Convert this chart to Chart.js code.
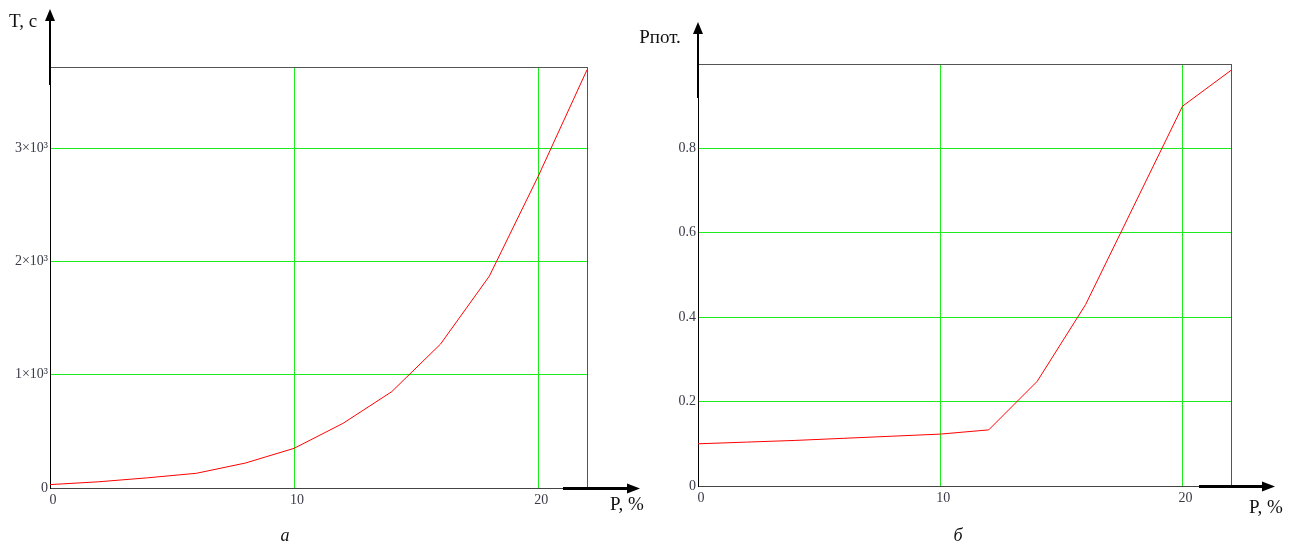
<!DOCTYPE html>
<html>
<head>
<meta charset="utf-8">
<script src="https://cdn.jsdelivr.net/npm/chart.js@4"></script>
<style>
  body { margin: 0; background: #fff; width: 1292px; height: 547px; overflow: hidden; }
  canvas { position: absolute; top: 0; }
  #grafikT { left: 0; }
  #grafikP { left: 620px; }
</style>
</head>
<body>
<canvas id="grafikT" width="646" height="547"></canvas>
<canvas id="grafikP" width="672" height="547"></canvas>
<script>
// P, %
const pValues = [0, 2, 4, 6, 8, 10, 12, 14, 16, 18, 20, 22];
// T, c
const tValues = [30, 55, 90, 130, 220, 350, 570, 850, 1270, 1870, 2750, 3690];
// Рпот.
const pLossValues = [0.1, 0.104, 0.108, 0.113, 0.118, 0.123, 0.133, 0.248, 0.43, 0.665, 0.9, 0.985];

const xTicks = [0, 10, 20];
const tTicks = [0, 1000, 2000, 3000];
const pLossTicks = [0, 0.2, 0.4, 0.6, 0.8];

const serif = '"Liberation Serif", "DejaVu Serif", serif';
const green = 'rgb(30, 235, 30)';

// рамка, стрелки осей и подписи
const ramkaPlugin = {
    id: 'ramka',
    afterDraw(chart, args, o) {
        const c = chart.ctx;
        const a = chart.chartArea;
        const L = Math.round(a.left), R = Math.round(a.right);
        const T = Math.round(a.top), B = Math.round(a.bottom);
        c.save();
        c.lineWidth = 1;
        c.strokeStyle = '#555';
        c.beginPath();
        c.moveTo(L, T + 0.5); c.lineTo(R + 1, T + 0.5);
        c.moveTo(R + 0.5, T); c.lineTo(R + 0.5, B);
        c.stroke();

        // ось Y со стрелкой
        c.strokeStyle = '#000';
        c.fillStyle = '#000';
        c.lineWidth = 2;
        c.beginPath();
        c.moveTo(L, o.yArrow.base); c.lineTo(L, o.yArrow.end);
        c.stroke();
        c.beginPath();
        c.moveTo(L, o.yArrow.tip);
        c.lineTo(L - 5, o.yArrow.base + 1);
        c.lineTo(L + 5, o.yArrow.base + 1);
        c.closePath();
        c.fill();

        // ось X со стрелкой
        c.lineWidth = 3;
        c.beginPath();
        c.moveTo(R + o.xArrow.start, B + 0.5); c.lineTo(R + o.xArrow.base, B + 0.5);
        c.stroke();
        c.beginPath();
        c.moveTo(R + o.xArrow.tip, B + 0.5);
        c.lineTo(R + o.xArrow.base - 1, B - 4.5);
        c.lineTo(R + o.xArrow.base - 1, B + 5.5);
        c.closePath();
        c.fill();

        c.fillStyle = '#111';
        c.textAlign = 'center';
        c.textBaseline = 'middle';
        c.font = '19px ' + serif;
        c.fillText(o.yTitle.text, o.yTitle.x, o.yTitle.y);
        c.fillText(o.xTitle.text, o.xTitle.x, o.xTitle.y);
        c.font = 'italic 18px ' + serif;
        c.fillText(o.caption.text, o.caption.x, o.caption.y);
        c.restore();
    }
};

function veGrafik(id, canvasW, yValues, yTickValues, yMax, khung, tickText) {
    const ctx = document.getElementById(id).getContext('2d');
    return new Chart(ctx, {
        type: 'line',
        data: {
            datasets: [{
                data: pValues.map((p, i) => ({ x: p, y: yValues[i] })),
                borderColor: '#ff0000',
                borderWidth: 1,
                pointRadius: 0,
                tension: 0
            }]
        },
        options: {
            responsive: false,
            animation: false,
            layout: { padding: { left: 0, top: khung.top, right: canvasW - khung.right, bottom: 0 } },
            plugins: {
                legend: { display: false },
                tooltip: { enabled: false },
                ramka: khung.plugin
            },
            scales: {
                x: {
                    type: 'linear',
                    min: 0,
                    max: 22,
                    afterBuildTicks: s => { s.ticks = xTicks.map(v => ({ value: v })); },
                    afterFit: s => { s.height = 547 - khung.bottom; },
                    grid: {
                        drawTicks: false,
                        color: c => (c.tick && c.tick.value === 0) ? 'rgba(0,0,0,0)' : green
                    },
                    border: { color: '#444', width: 1 },
                    ticks: {
                        padding: 4,
                        labelOffset: 3,
                        color: '#3a3a48',
                        font: { family: serif, size: 14 },
                        maxRotation: 0
                    }
                },
                y: {
                    min: 0,
                    max: yMax,
                    afterBuildTicks: s => { s.ticks = yTickValues.map(v => ({ value: v })); },
                    afterFit: s => { s.width = khung.left; },
                    grid: {
                        drawTicks: false,
                        color: c => (c.tick && c.tick.value === 0) ? 'rgba(0,0,0,0)' : green
                    },
                    border: { color: '#000', width: 1 },
                    ticks: {
                        padding: 2,
                        color: '#3a3a48',
                        font: { family: serif, size: 14 },
                        callback: tickText
                    }
                }
            }
        },
        plugins: [ramkaPlugin]
    });
}

veGrafik('grafikT', 646, tValues, tTicks, 3715, {
    left: 50, right: 587, top: 67, bottom: 488,
    plugin: {
        yArrow: { tip: 9, base: 20, end: 85 },
        xArrow: { start: -24, base: 41, tip: 53 },
        yTitle: { text: 'T, c', x: 23, y: 22 },
        xTitle: { text: 'P, %', x: 627, y: 505 },
        caption: { text: 'а', x: 285, y: 536 }
    }
}, v => v === 0 ? '0' : (v / 1000) + '×10³');

// второй холст сдвинут на 620 px
veGrafik('grafikP', 672, pLossValues, pLossTicks, 1, {
    left: 78, right: 611, top: 64, bottom: 486,
    plugin: {
        yArrow: { tip: 22, base: 33, end: 98 },
        xArrow: { start: -32, base: 32, tip: 44 },
        yTitle: { text: 'Рпот.', x: 40, y: 38 },
        xTitle: { text: 'P, %', x: 646, y: 508 },
        caption: { text: 'б', x: 338, y: 536 }
    }
}, v => v === 0 ? '0' : v.toFixed(1));
</script>
</body>
</html>
